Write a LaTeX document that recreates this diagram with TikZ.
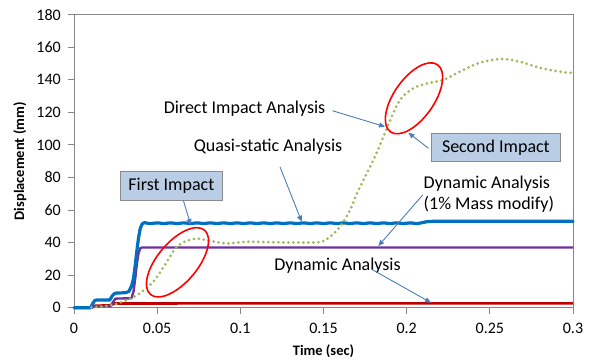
\documentclass[tikz,border=0pt]{standalone}
\usepackage{fontspec}
\setmainfont{Carlito}
\usetikzlibrary{arrows.meta}
\definecolor{cblue}{HTML}{0070C0}
\definecolor{cpurple}{HTML}{7030A0}
\definecolor{cred}{HTML}{C00000}
\definecolor{cgreen}{HTML}{9BBB59}
\definecolor{carrow}{HTML}{4A7EBB}
\definecolor{cbox}{HTML}{B9CDE5}
\definecolor{cboxline}{HTML}{8A8A8A}
\definecolor{caxis}{HTML}{878787}
\begin{document}
\begin{tikzpicture}[x=1bp,y=1bp,
  annot/.style={font=\fontsize{18bp}{21bp}\selectfont, inner sep=0pt},
  ticklab/.style={font=\fontsize{16bp}{19bp}\selectfont, inner sep=0pt},
  axtitle/.style={font=\bfseries\fontsize{14.5bp}{17bp}\selectfont, inner sep=0pt},
  callout/.style={draw=cboxline, fill=cbox, line width=0.9bp, inner sep=0pt,
    font=\fontsize{18bp}{21bp}\selectfont},
  pointer/.style={draw=carrow, line width=0.9bp, -{Triangle[length=6bp,width=5bp]}},
  ring/.style={draw=red, line width=1.6bp},
  frameline/.style={draw=caxis, line width=1bp},
  blueline/.style={draw=cblue, line width=3.2bp, line join=round, line cap=round},
  purpleline/.style={draw=cpurple, line width=2.4bp, line join=round},
  redline/.style={draw=cred, line width=2.6bp, line join=round},
  greendots/.style={draw=cgreen, line width=3bp, line cap=round, dash pattern=on 0bp off 5bp}
]
\useasboundingbox (0,0) rectangle (595,361);

% plot frame and ticks
\draw[frameline] (74,53.3) rectangle (573,346.3);
\foreach \v in {0,20,...,180}{
  \draw[frameline] (68,{53.3+1.628*\v}) -- (74,{53.3+1.628*\v});
  \node[ticklab, anchor=east] (yl\v) at (61,{53.3+1.628*\v}) {\v};
}
\foreach \t/\lab/\nm in {0/0/a,0.05/0.05/b,0.1/0.1/c,0.15/0.15/d,0.2/0.2/e,0.25/0.25/f,0.3/0.3/g}{
  \draw[frameline] ({74+1663.3*\t},53.3) -- ({74+1663.3*\t},47.5);
  \node[ticklab] (xl\nm) at ({74+1663.3*\t},33) {\lab};
}
\node[axtitle] (xtitle) at (323.5,9.5) {Time (sec)};
\node[axtitle, rotate=90] (ytitle) at (20,199.8) {Displacement (mm)};

% data curves
\begin{scope}[shift={(74,53.3)}, x=1663.3bp, y=1.628bp]
\draw[redline] (0,0) -- (0.0105,0) -- (0.0125,1.2) -- (0.022,1.5) -- (0.0245,2.6) -- (0.3,2.7);
\draw[purpleline] (0,0) -- (0.0105,0) -- (0.012,0.8) -- (0.022,1.0) -- (0.0235,3.5) -- (0.025,5.6)
  -- (0.0345,5.8) -- (0.0358,10) -- (0.0368,18) -- (0.0378,27) -- (0.0388,33.5) -- (0.0398,36.5)
  -- (0.041,37) -- (0.3,37);
\draw[blueline] (0,0) -- (0.0100,0) -- (0.0112,2.5) -- (0.0125,4.4) -- (0.0135,4.7) -- (0.0215,4.7)
  -- (0.0228,7) -- (0.0242,8.6) -- (0.0255,9.0) -- (0.031,9.2) -- (0.0330,10) -- (0.0345,13)
  -- (0.0358,18) -- (0.0368,26) -- (0.0378,35) -- (0.0388,43) -- (0.0398,48.5) -- (0.0410,51.5)
  -- (0.0425,52.3)
  -- plot[domain=0.044:0.208, samples=90] (\x,{51.9+0.22*sin(\x*450*100)})
  -- (0.212,52.8) -- (0.216,53.1) -- (0.3,53.1);
\draw[greendots] plot[smooth, tension=0.55] coordinates {
  (0.0105,0.2) (0.0236,1.8) (0.0357,6.5) (0.0407,9.7) (0.0457,13.8) (0.0507,20) (0.0557,28)
  (0.0607,36) (0.0658,40.3) (0.0738,42.4) (0.082,41) (0.0918,39.5) (0.1038,40.5) (0.12,40.2)
  (0.135,40) (0.148,40.4) (0.154,43.6) (0.16,49.8) (0.166,60) (0.17,70) (0.175,80.5)
  (0.18,90.7) (0.184,100) (0.19,115) (0.196,127.6) (0.204,134.8) (0.214,138.2) (0.222,139.9)
  (0.234,146) (0.244,150.5) (0.257,152.8) (0.268,151.1) (0.28,147.4) (0.292,145) (0.3,144.2)};
\end{scope}

% ellipses
\draw[ring, rotate around={50:(177.5,98.7)}] (177.5,98.7) ellipse [x radius=42, y radius=20];
\draw[ring, rotate around={55:(414,262.7)}] (414,262.7) ellipse [x radius=41, y radius=20];

% annotations
\node[annot] (direct) at (244.5,252) {Direct Impact Analysis};
\node[annot] (quasi) at (268,214) {Quasi-static Analysis};
\node[callout, minimum width=129.7, minimum height=27.7] (second) at (495.9,213.8) {Second Impact};
\node[callout, minimum width=102.7, minimum height=28.3] (first) at (171.4,175.1) {First Impact};
\node[annot, align=left, anchor=west] (dynm) at (423.5,166.5) {Dynamic Analysis\\(1\% Mass modify)};
\node[annot] (dyn) at (337.5,95) {Dynamic Analysis};

\coordinate (tipdirect) at (385,234.3);
\coordinate (tipquasi) at (301.7,139.3);
\coordinate (tipsecond) at (408.3,228.3);
\coordinate (tipfirst) at (190.7,136);
\coordinate (tipdynm) at (378.3,115);
\coordinate (tipdyn) at (431,58.3);

\draw[pointer] ([shift={(7,-1.7)}]direct.east) -- (tipdirect);
\draw[pointer] ([shift={(12,-12)}]quasi.south) -- (tipquasi);
\draw[pointer] ([shift={(-2.5,-1)}]second.west) -- (tipsecond);
\draw[pointer] ([xshift=12]first.south) -- (tipfirst);
\draw[pointer] ([shift={(-0.8,-0.5)}]dynm.west) -- (tipdynm);
\draw[pointer] ([shift={(34.2,-3.3)}]dyn.center) -- (tipdyn);
\end{tikzpicture}
\end{document}
